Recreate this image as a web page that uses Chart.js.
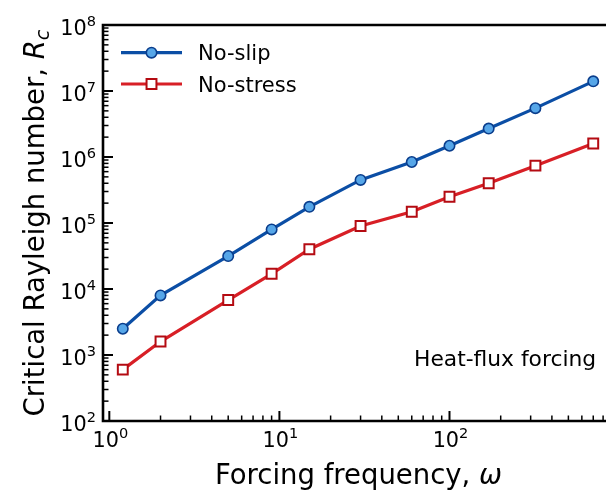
<!DOCTYPE html>
<html><head><meta charset="utf-8">
<script src="https://cdn.jsdelivr.net/npm/chart.js@4.4.1/dist/chart.umd.min.js"></script>
<style>html,body{margin:0;padding:0;background:#fff}#wrap{width:606px;height:493px}</style>
</head><body><div id="wrap"><canvas id="c" width="606" height="493"></canvas></div>
<script>
// ---- data ----
const omega = [1.2, 2, 5, 9, 15, 30, 60, 100, 170, 320, 700];
const noSlip = [2500, 8000, 31600, 80000, 176000, 450000, 840000, 1480000, 2700000, 5500000, 14000000];
const noStress = [600, 1600, 6800, 17000, 40000, 90000, 148000, 250000, 400000, 740000, 1600000];
const seriesNames = ['No-slip', 'No-stress'];
const xTickExponents = [0, 1, 2];
const yTickExponents = [2, 3, 4, 5, 6, 7, 8];
const xTitleText = 'Forcing frequency, ';
const xTitleSymbol = 'ω';
const yTitleText = 'Critical Rayleigh number, ';
const yTitleSymbol = 'R';
const yTitleSub = 'c';
const annotationText = 'Heat-flux forcing';

// ---- styles ----
const FONT = "'DejaVu Sans', sans-serif";
const BLUE_LINE = '#0b4ea5', BLUE_FILL = '#56a6e8', BLUE_EDGE = '#0a3d8c';
const RED_LINE = '#d81f26', RED_FILL = '#ffffff', RED_EDGE = '#b40b12';

const toPts = (xs, ys) => xs.map((x, i) => ({x: x, y: ys[i]}));

function drawPow(ctx, base, exp, x, y, size, align) {
  const ss = size * 0.7;
  ctx.font = size + 'px ' + FONT;
  const wb = ctx.measureText(base).width;
  ctx.font = ss + 'px ' + FONT;
  const we = ctx.measureText(exp).width;
  const total = wb + we;
  const x0 = align === 'center' ? x - total / 2 : (align === 'right' ? x - total : x);
  ctx.textAlign = 'left'; ctx.textBaseline = 'alphabetic';
  ctx.font = size + 'px ' + FONT;
  ctx.fillText(base, x0, y);
  ctx.font = ss + 'px ' + FONT;
  ctx.fillText(exp, x0 + wb, y - size * 0.44);
}

const decor = {
  id: 'decor',
  afterDraw(chart) {
    const ctx = chart.ctx;
    const a = chart.chartArea;
    const xs = chart.scales.x, ys = chart.scales.y;
    ctx.save();
    ctx.fillStyle = '#000'; ctx.strokeStyle = '#000';
    // minor / major ticks (inward)
    const xmin = xs.min, xmax = xs.max, ymin = ys.min, ymax = ys.max;
    for (let e = -1; e <= 3; e++) {
      for (let m = 1; m <= 9; m++) {
        const v = m * Math.pow(10, e);
        if (v < xmin - 1e-9 || v > xmax) continue;
        const px = xs.getPixelForValue(v);
        const len = m === 1 ? 10 : 5.5;
        ctx.lineWidth = m === 1 ? 2 : 1.5;
        ctx.beginPath(); ctx.moveTo(px, a.bottom); ctx.lineTo(px, a.bottom - len); ctx.stroke();
      }
    }
    for (let e = 1; e <= 9; e++) {
      for (let m = 1; m <= 9; m++) {
        const v = m * Math.pow(10, e);
        if (v < ymin * 0.999 || v > ymax * 1.001) continue;
        const py = ys.getPixelForValue(v);
        const len = m === 1 ? 10 : 5.5;
        ctx.lineWidth = m === 1 ? 2 : 1.5;
        ctx.beginPath(); ctx.moveTo(a.left, py); ctx.lineTo(a.left + len, py); ctx.stroke();
      }
    }
    // spines
    ctx.lineWidth = 2.6;
    ctx.beginPath();
    ctx.moveTo(a.right + 2, a.top); ctx.lineTo(a.left, a.top);
    ctx.lineTo(a.left, a.bottom); ctx.lineTo(a.right + 2, a.bottom);
    ctx.stroke();
    // tick labels
    xTickExponents.forEach(e => {
      const px = xs.getPixelForValue(Math.pow(10, e));
      drawPow(ctx, '10', String(e), px + 1, a.bottom + 25.7, 20.8, 'center');
    });
    yTickExponents.forEach(e => {
      const py = ys.getPixelForValue(Math.pow(10, e));
      drawPow(ctx, '10', String(e), a.left - 7, py + 10, 20.8, 'right');
    });
    // x title
    const tsz = 27.5;
    ctx.font = tsz + 'px ' + FONT;
    const w1 = ctx.measureText(xTitleText).width;
    ctx.font = 'italic ' + tsz + 'px ' + FONT;
    const w2 = ctx.measureText(xTitleSymbol).width;
    let x0 = 358.5 - (w1 + w2) / 2;
    ctx.textAlign = 'left'; ctx.textBaseline = 'alphabetic';
    ctx.font = tsz + 'px ' + FONT; ctx.fillText(xTitleText, x0, 484);
    ctx.font = 'italic ' + tsz + 'px ' + FONT; ctx.fillText(xTitleSymbol, x0 + w1, 484);
    // y title (rotated)
    ctx.save();
    ctx.translate(44, (a.top + a.bottom) / 2);
    ctx.rotate(-Math.PI / 2);
    ctx.font = tsz + 'px ' + FONT;
    const v1 = ctx.measureText(yTitleText).width;
    ctx.font = 'italic ' + tsz + 'px ' + FONT;
    const v2 = ctx.measureText(yTitleSymbol).width;
    ctx.font = 'italic ' + (tsz * 0.7) + 'px ' + FONT;
    const v3 = ctx.measureText(yTitleSub).width;
    let y0 = -(v1 + v2 + v3) / 2;
    ctx.font = tsz + 'px ' + FONT; ctx.fillText(yTitleText, y0, 0);
    ctx.font = 'italic ' + tsz + 'px ' + FONT; ctx.fillText(yTitleSymbol, y0 + v1, 0);
    ctx.font = 'italic ' + (tsz * 0.7) + 'px ' + FONT; ctx.fillText(yTitleSub, y0 + v1 + v2, 5);
    ctx.restore();
    // annotation
    ctx.font = '21.8px ' + FONT;
    ctx.fillText(annotationText, 414, 366);
    // legend
    const rows = [52.7, 84];
    chart.data.datasets.forEach((ds, i) => {
      const yy = rows[i];
      ctx.strokeStyle = ds.borderColor; ctx.lineWidth = ds.borderWidth;
      ctx.beginPath(); ctx.moveTo(121, yy); ctx.lineTo(182, yy); ctx.stroke();
      ctx.fillStyle = ds.pointBackgroundColor; ctx.strokeStyle = ds.pointBorderColor;
      ctx.lineWidth = ds.pointBorderWidth;
      Chart.helpers.drawPoint(ctx, {pointStyle: ds.pointStyle, radius: ds.pointRadius, borderWidth: ds.pointBorderWidth, rotation: 0}, 151.5, yy);
      ctx.fillStyle = '#000';
      ctx.font = '21px ' + FONT; ctx.textAlign = 'left'; ctx.textBaseline = 'alphabetic';
      ctx.fillText(ds.label, 198, yy + 7.6);
    });
    ctx.restore();
  }
};

new Chart(document.getElementById('c'), {
  type: 'line',
  data: {
    datasets: [
      {label: seriesNames[0], data: toPts(omega, noSlip), borderColor: BLUE_LINE, borderWidth: 3.2,
       pointStyle: 'circle', pointRadius: 5.2, pointBorderWidth: 1.6,
       pointBackgroundColor: BLUE_FILL, pointBorderColor: BLUE_EDGE, fill: false, tension: 0},
      {label: seriesNames[1], data: toPts(omega, noStress), borderColor: RED_LINE, borderWidth: 3.2,
       pointStyle: 'rect', pointRadius: 7, pointBorderWidth: 2,
       pointBackgroundColor: RED_FILL, pointBorderColor: RED_EDGE, fill: false, tension: 0}
    ]
  },
  options: {
    responsive: false, animation: false, devicePixelRatio: 1,
    layout: {autoPadding: false, padding: {top: 25, right: 0, left: 0, bottom: 0}},
    plugins: {legend: {display: false}, tooltip: {enabled: false}},
    scales: {
      x: {type: 'logarithmic', min: 0.918, max: 832, bounds: 'data',
          grid: {display: false, drawTicks: false}, border: {display: false},
          ticks: {display: false},
          afterFit(s) { s.height = 72; }},
      y: {type: 'logarithmic', min: 100, max: 1e8, bounds: 'data',
          grid: {display: false, drawTicks: false}, border: {display: false},
          ticks: {display: false},
          afterFit(s) { s.width = 103; }}
    }
  },
  plugins: [decor]
});
</script></body></html>
